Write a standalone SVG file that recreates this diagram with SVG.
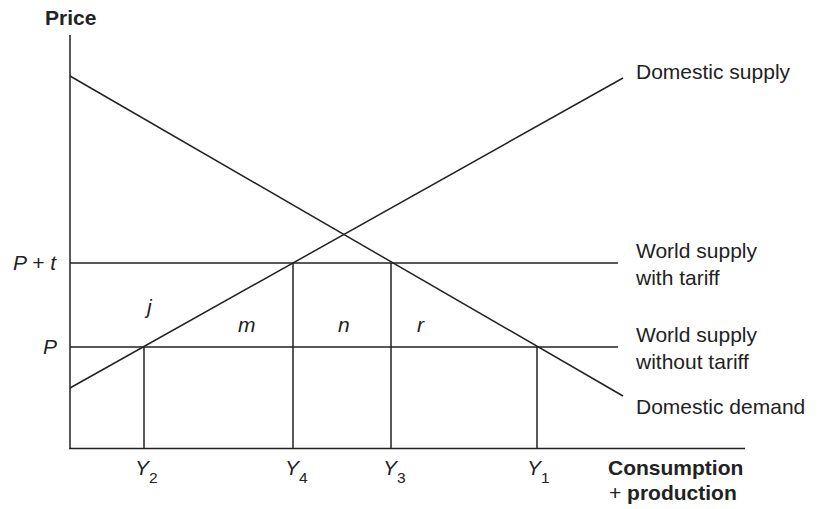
<svg xmlns="http://www.w3.org/2000/svg" width="821" height="509" viewBox="0 0 821 509">
<style>
.ln{stroke:#222;stroke-width:1.5;fill:none}
text{font-family:"Liberation Sans",Arial,sans-serif;font-size:21px;fill:#222}
.b{font-weight:bold}
.i{font-style:italic}
.sub{font-size:15.5px;font-style:normal}
</style>
<rect width="821" height="509" fill="#fff"/>
<g id="axes">
<line class="ln" x1="70" y1="35" x2="70" y2="449"/>
<line class="ln" x1="69.25" y1="448.5" x2="745" y2="448.5"/>
</g>
<g id="connectors">
<line id="demand" class="ln" x1="70" y1="76" x2="623" y2="396"/>
<line id="supply" class="ln" x1="70" y1="388" x2="623" y2="78"/>
<line id="tariff" class="ln" x1="70" y1="263" x2="618" y2="263"/>
<line id="world" class="ln" x1="70" y1="347" x2="618" y2="347"/>
<line class="ln" x1="144" y1="347" x2="144" y2="449"/>
<line class="ln" x1="293" y1="263" x2="293" y2="449"/>
<line class="ln" x1="391" y1="263" x2="391" y2="449"/>
<line class="ln" x1="537" y1="347" x2="537" y2="449"/>
</g>
<g id="labels">
<text class="b" x="45" y="25">Price</text>
<text class="i" x="13" y="270">P + t</text>
<text class="i" x="43" y="354">P</text>
<text class="i" x="147" y="314">j</text>
<text class="i" x="238" y="332">m</text>
<text class="i" x="338" y="332">n</text>
<text class="i" x="417" y="332">r</text>
<text class="i" x="135" y="475">Y<tspan class="sub" dy="8">2</tspan></text>
<text class="i" x="285" y="475">Y<tspan class="sub" dy="8">4</tspan></text>
<text class="i" x="383" y="475">Y<tspan class="sub" dy="8">3</tspan></text>
<text class="i" x="527" y="475">Y<tspan class="sub" dy="8">1</tspan></text>
<text class="b" x="608" y="475">Consumption</text>
<text x="609" y="500">+ <tspan class="b">production</tspan></text>
<text x="636" y="79">Domestic supply</text>
<text x="636" y="258">World supply</text>
<text x="636" y="285">with tariff</text>
<text x="636" y="342">World supply</text>
<text x="636" y="369">without tariff</text>
<text x="636" y="414">Domestic demand</text>
</g>
</svg>
